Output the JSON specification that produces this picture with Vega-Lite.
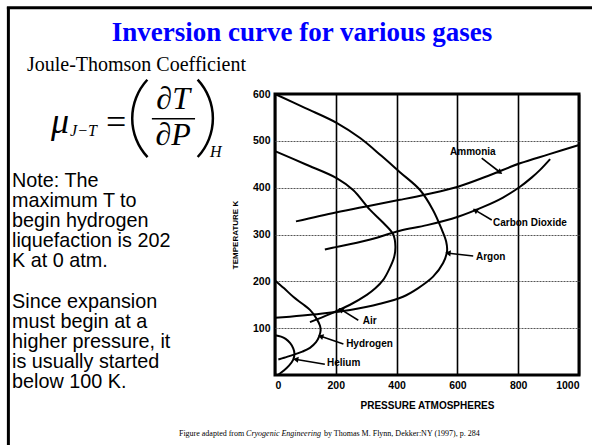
{
  "$schema": "https://vega.github.io/schema/vega-lite/v6.json",
  "width": 304,
  "height": 281,
  "autosize": {"type": "none"},
  "padding": {"left": 275, "top": 94, "right": 13, "bottom": 70},
  "background": "white",
  "view": {"stroke": "black", "strokeWidth": 3},
  "config": {
    "font": "Liberation Sans",
    "axis": {"labelColor": "black", "titleColor": "black", "labelFont": "Liberation Sans", "titleFont": "Liberation Sans"}
  },
  "datasets": {
    "curves": [
      {"gas": "Argon", "i": 1, "P": 0, "T": 600},
      {"gas": "Argon", "i": 2, "P": 100, "T": 570},
      {"gas": "Argon", "i": 3, "P": 204, "T": 538},
      {"gas": "Argon", "i": 4, "P": 280, "T": 506},
      {"gas": "Argon", "i": 5, "P": 350, "T": 468},
      {"gas": "Argon", "i": 6, "P": 411, "T": 433},
      {"gas": "Argon", "i": 7, "P": 477, "T": 395},
      {"gas": "Argon", "i": 8, "P": 520, "T": 352},
      {"gas": "Argon", "i": 9, "P": 549, "T": 310},
      {"gas": "Argon", "i": 10, "P": 563, "T": 285},
      {"gas": "Argon", "i": 11, "P": 566, "T": 265},
      {"gas": "Argon", "i": 12, "P": 553, "T": 239},
      {"gas": "Argon", "i": 13, "P": 520, "T": 210},
      {"gas": "Argon", "i": 14, "P": 470, "T": 185},
      {"gas": "Argon", "i": 15, "P": 421, "T": 167},
      {"gas": "Argon", "i": 16, "P": 345, "T": 152},
      {"gas": "Argon", "i": 17, "P": 247, "T": 139},
      {"gas": "Argon", "i": 18, "P": 150, "T": 131},
      {"gas": "Argon", "i": 19, "P": 0, "T": 122},
      {"gas": "Air", "i": 1, "P": 0, "T": 478},
      {"gas": "Air", "i": 2, "P": 100, "T": 450},
      {"gas": "Air", "i": 3, "P": 204, "T": 420},
      {"gas": "Air", "i": 4, "P": 257, "T": 395},
      {"gas": "Air", "i": 5, "P": 312, "T": 353},
      {"gas": "Air", "i": 6, "P": 356, "T": 325},
      {"gas": "Air", "i": 7, "P": 389, "T": 300},
      {"gas": "Air", "i": 8, "P": 396, "T": 275},
      {"gas": "Air", "i": 9, "P": 392, "T": 252},
      {"gas": "Air", "i": 10, "P": 375, "T": 225},
      {"gas": "Air", "i": 11, "P": 356, "T": 203},
      {"gas": "Air", "i": 12, "P": 330, "T": 185},
      {"gas": "Air", "i": 13, "P": 302, "T": 171},
      {"gas": "Air", "i": 14, "P": 247, "T": 150},
      {"gas": "Air", "i": 15, "P": 180, "T": 130},
      {"gas": "Air", "i": 16, "P": 115, "T": 113},
      {"gas": "Hydrogen", "i": 1, "P": 0, "T": 202},
      {"gas": "Hydrogen", "i": 2, "P": 30, "T": 185},
      {"gas": "Hydrogen", "i": 3, "P": 60, "T": 167},
      {"gas": "Hydrogen", "i": 4, "P": 90, "T": 152},
      {"gas": "Hydrogen", "i": 5, "P": 115, "T": 139},
      {"gas": "Hydrogen", "i": 6, "P": 135, "T": 122},
      {"gas": "Hydrogen", "i": 7, "P": 148, "T": 105},
      {"gas": "Hydrogen", "i": 8, "P": 150, "T": 95},
      {"gas": "Hydrogen", "i": 9, "P": 145, "T": 82},
      {"gas": "Hydrogen", "i": 10, "P": 135, "T": 70},
      {"gas": "Hydrogen", "i": 11, "P": 115, "T": 58},
      {"gas": "Hydrogen", "i": 12, "P": 90, "T": 50},
      {"gas": "Hydrogen", "i": 13, "P": 60, "T": 43},
      {"gas": "Hydrogen", "i": 14, "P": 30, "T": 37},
      {"gas": "Hydrogen", "i": 15, "P": 11, "T": 33},
      {"gas": "Helium", "i": 1, "P": 0, "T": 85},
      {"gas": "Helium", "i": 2, "P": 20, "T": 82},
      {"gas": "Helium", "i": 3, "P": 35, "T": 77},
      {"gas": "Helium", "i": 4, "P": 50, "T": 68},
      {"gas": "Helium", "i": 5, "P": 60, "T": 57},
      {"gas": "Helium", "i": 6, "P": 64, "T": 46},
      {"gas": "Helium", "i": 7, "P": 60, "T": 33},
      {"gas": "Helium", "i": 8, "P": 46, "T": 20},
      {"gas": "Helium", "i": 9, "P": 28, "T": 9},
      {"gas": "Helium", "i": 10, "P": 10, "T": 0},
      {"gas": "Ammonia", "i": 1, "P": 69, "T": 328},
      {"gas": "Ammonia", "i": 2, "P": 200, "T": 347},
      {"gas": "Ammonia", "i": 3, "P": 300, "T": 360},
      {"gas": "Ammonia", "i": 4, "P": 411, "T": 374},
      {"gas": "Ammonia", "i": 5, "P": 500, "T": 386},
      {"gas": "Ammonia", "i": 6, "P": 602, "T": 402},
      {"gas": "Ammonia", "i": 7, "P": 700, "T": 425},
      {"gas": "Ammonia", "i": 8, "P": 806, "T": 452},
      {"gas": "Ammonia", "i": 9, "P": 900, "T": 471},
      {"gas": "Ammonia", "i": 10, "P": 1000, "T": 491},
      {"gas": "Carbon Dioxide", "i": 1, "P": 164, "T": 268},
      {"gas": "Carbon Dioxide", "i": 2, "P": 200, "T": 273},
      {"gas": "Carbon Dioxide", "i": 3, "P": 300, "T": 287},
      {"gas": "Carbon Dioxide", "i": 4, "P": 411, "T": 308},
      {"gas": "Carbon Dioxide", "i": 5, "P": 500, "T": 320},
      {"gas": "Carbon Dioxide", "i": 6, "P": 602, "T": 338},
      {"gas": "Carbon Dioxide", "i": 7, "P": 685, "T": 359},
      {"gas": "Carbon Dioxide", "i": 8, "P": 750, "T": 379},
      {"gas": "Carbon Dioxide", "i": 9, "P": 806, "T": 402},
      {"gas": "Carbon Dioxide", "i": 10, "P": 845, "T": 422},
      {"gas": "Carbon Dioxide", "i": 11, "P": 872, "T": 438},
      {"gas": "Carbon Dioxide", "i": 12, "P": 905, "T": 461}
    ],
    "labels": [
      {"gas": "Ammonia", "P": 576, "T": 476},
      {"gas": "Carbon Dioxide", "P": 717, "T": 325},
      {"gas": "Argon", "P": 661, "T": 252},
      {"gas": "Air", "P": 289, "T": 115},
      {"gas": "Hydrogen", "P": 234, "T": 66},
      {"gas": "Helium", "P": 171, "T": 26}
    ],
    "arrows": [
      {"gas": "Ammonia", "P": 680, "T": 463, "P2": 738, "T2": 434, "heading": 127},
      {"gas": "Carbon Dioxide", "P": 713, "T": 331, "P2": 661, "T2": 351, "heading": 301},
      {"gas": "Argon", "P": 652, "T": 254, "P2": 572, "T2": 260, "heading": 276},
      {"gas": "Air", "P": 274, "T": 117, "P2": 219, "T2": 139, "heading": 301},
      {"gas": "Hydrogen", "P": 225, "T": 66, "P2": 153, "T2": 82, "heading": 289},
      {"gas": "Helium", "P": 164, "T": 23, "P2": 71, "T2": 33, "heading": 279}
    ]
  },
  "layer": [
    {
      "data": {"name": "curves"},
      "mark": {"type": "line", "interpolate": "catmull-rom", "color": "black", "strokeWidth": 2},
      "encoding": {
        "x": {
          "field": "P", "type": "quantitative",
          "scale": {"domain": [0, 1000], "nice": false, "zero": false},
          "axis": {
            "values": [0, 200, 400, 600, 800, 1000],
            "format": "d",
            "title": "PRESSURE  ATMOSPHERES",
            "titleFontSize": 10, "titleFontWeight": "bold", "titlePadding": 10,
            "labelFontSize": 10.5, "labelFontWeight": "bold", "labelPadding": 5,
            "ticks": false, "tickSize": 0, "domain": false,
            "grid": true, "gridColor": "black", "gridWidth": 1.6, "gridOpacity": 1
          }
        },
        "y": {
          "field": "T", "type": "quantitative",
          "scale": {"domain": [0, 600], "nice": false, "zero": false},
          "axis": {
            "values": [100, 200, 300, 400, 500, 600],
            "format": "d",
            "title": "TEMPERATURE K",
            "titleFontSize": 8, "titleFontWeight": "bold", "titlePadding": 13,
            "labelFontSize": 10.5, "labelFontWeight": "bold", "labelPadding": 5,
            "ticks": false, "tickSize": 0, "domain": false,
            "grid": true, "gridColor": "#555555", "gridWidth": 1, "gridDash": [2, 1],
            "gridOpacity": {"condition": {"test": "datum.value >= 600", "value": 0}, "value": 1}
          }
        },
        "detail": {"field": "gas"},
        "order": {"field": "i", "type": "quantitative"}
      }
    },
    {
      "data": {"name": "arrows"},
      "mark": {"type": "rule", "color": "black", "strokeWidth": 1.6},
      "encoding": {
        "x": {"field": "P", "type": "quantitative"},
        "y": {"field": "T", "type": "quantitative"},
        "x2": {"field": "P2"},
        "y2": {"field": "T2"}
      }
    },
    {
      "data": {"name": "arrows"},
      "mark": {"type": "point", "shape": "triangle", "filled": true, "color": "black", "size": 38, "opacity": 1},
      "encoding": {
        "x": {"field": "P2", "type": "quantitative"},
        "y": {"field": "T2", "type": "quantitative"},
        "angle": {"field": "heading", "type": "quantitative", "scale": null}
      }
    },
    {
      "data": {"name": "labels"},
      "mark": {"type": "text", "align": "left", "baseline": "middle", "font": "Liberation Sans", "fontWeight": "bold", "fontSize": 10, "color": "black"},
      "encoding": {
        "x": {"field": "P", "type": "quantitative"},
        "y": {"field": "T", "type": "quantitative"},
        "text": {"field": "gas"}
      }
    },
    {
      "data": {"values": [{}]},
      "mark": {"type": "rule", "color": "black", "strokeWidth": 3},
      "encoding": {
        "x": {"datum": -877, "type": "quantitative"},
        "y": {"datum": 786, "type": "quantitative"},
        "y2": {"datum": -170}
      }
    },
    {
      "data": {"values": [{}]},
      "mark": {"type": "rule", "color": "black", "strokeWidth": 3},
      "encoding": {
        "x": {"datum": -882, "type": "quantitative"},
        "x2": {"datum": 1060},
        "y": {"datum": 784, "type": "quantitative"}
      }
    },
    {
      "data": {"values": [{}]},
      "mark": {"type": "text", "text": "Inversion curve for various gases", "align": "center", "baseline": "alphabetic", "font": "Liberation Serif", "fontWeight": "bold", "fontSize": 27, "color": "#0000ff"},
      "encoding": {
        "x": {"datum": 89, "type": "quantitative"},
        "y": {"datum": 713, "type": "quantitative"}
      }
    },
    {
      "data": {"values": [{}]},
      "mark": {"type": "text", "text": "Joule-Thomson Coefficient", "align": "left", "baseline": "alphabetic", "font": "Liberation Serif", "fontSize": 20, "color": "black"},
      "encoding": {
        "x": {"datum": -816, "type": "quantitative"},
        "y": {"datum": 649, "type": "quantitative"}
      }
    },
    {
      "data": {"values": [{}]},
      "mark": {"type": "text", "text": "μ", "align": "left", "baseline": "alphabetic", "font": "Liberation Serif", "fontStyle": "italic", "fontSize": 36, "color": "black"},
      "encoding": {
        "x": {"datum": -737, "type": "quantitative"},
        "y": {"datum": 517, "type": "quantitative"}
      }
    },
    {
      "data": {"values": [{}]},
      "mark": {"type": "text", "text": "J−T", "align": "left", "baseline": "alphabetic", "font": "Liberation Serif", "fontStyle": "italic", "fontSize": 16, "color": "black"},
      "encoding": {
        "x": {"datum": -674, "type": "quantitative"},
        "y": {"datum": 510, "type": "quantitative"}
      }
    },
    {
      "data": {"values": [{}]},
      "mark": {"type": "text", "text": "=", "align": "left", "baseline": "alphabetic", "font": "Liberation Serif", "fontSize": 36, "color": "black"},
      "encoding": {
        "x": {"datum": -556, "type": "quantitative"},
        "y": {"datum": 515, "type": "quantitative"}
      }
    },
    {
      "data": {"values": [{}]},
      "mark": {"type": "arc", "theta": 3.96, "theta2": 5.46, "innerRadius": 55.5, "outerRadius": 58, "color": "black"},
      "encoding": {
        "x": {"datum": -283, "type": "quantitative"},
        "y": {"datum": 548, "type": "quantitative"}
      }
    },
    {
      "data": {"values": [{}]},
      "mark": {"type": "arc", "theta": 0.82, "theta2": 2.32, "innerRadius": 55.5, "outerRadius": 58, "color": "black"},
      "encoding": {
        "x": {"datum": -391, "type": "quantitative"},
        "y": {"datum": 548, "type": "quantitative"}
      }
    },
    {
      "data": {"values": [{}]},
      "mark": {"type": "text", "text": "∂T", "align": "center", "baseline": "alphabetic", "font": "Liberation Serif", "fontStyle": "italic", "fontSize": 32, "color": "black"},
      "encoding": {
        "x": {"datum": -335, "type": "quantitative"},
        "y": {"datum": 568, "type": "quantitative"}
      }
    },
    {
      "data": {"values": [{}]},
      "mark": {"type": "rule", "color": "black", "strokeWidth": 1.5},
      "encoding": {
        "x": {"datum": -405, "type": "quantitative"},
        "x2": {"datum": -263},
        "y": {"datum": 547, "type": "quantitative"}
      }
    },
    {
      "data": {"values": [{}]},
      "mark": {"type": "text", "text": "∂P", "align": "center", "baseline": "alphabetic", "font": "Liberation Serif", "fontStyle": "italic", "fontSize": 32, "color": "black"},
      "encoding": {
        "x": {"datum": -335, "type": "quantitative"},
        "y": {"datum": 491, "type": "quantitative"}
      }
    },
    {
      "data": {"values": [{}]},
      "mark": {"type": "text", "text": "H", "align": "left", "baseline": "alphabetic", "font": "Liberation Serif", "fontStyle": "italic", "fontSize": 16, "color": "black"},
      "encoding": {
        "x": {"datum": -214, "type": "quantitative"},
        "y": {"datum": 466, "type": "quantitative"}
      }
    },
    {
      "data": {"values": [{}]},
      "mark": {"type": "text", "text": "Note:  The\nmaximum T to\nbegin hydrogen\nliquefaction is 202\nK at 0 atm.", "lineBreak": "\n", "lineHeight": 20, "align": "left", "baseline": "alphabetic", "font": "Liberation Sans", "fontSize": 19.8, "color": "black"},
      "encoding": {
        "x": {"datum": -865, "type": "quantitative"},
        "y": {"datum": 401, "type": "quantitative"}
      }
    },
    {
      "data": {"values": [{}]},
      "mark": {"type": "text", "text": "Since expansion\nmust begin at a\nhigher pressure, it\nis usually started\nbelow 100 K.", "lineBreak": "\n", "lineHeight": 20, "align": "left", "baseline": "alphabetic", "font": "Liberation Sans", "fontSize": 19.8, "color": "black"},
      "encoding": {
        "x": {"datum": -865, "type": "quantitative"},
        "y": {"datum": 143, "type": "quantitative"}
      }
    },
    {
      "data": {"values": [{}]},
      "mark": {"type": "text", "text": "Figure adapted from", "align": "left", "baseline": "alphabetic", "font": "Liberation Serif", "fontSize": 8, "color": "black"},
      "encoding": {
        "x": {"datum": -316, "type": "quantitative"},
        "y": {"datum": -130, "type": "quantitative"}
      }
    },
    {
      "data": {"values": [{}]},
      "mark": {"type": "text", "text": "Cryogenic Engineering", "align": "left", "baseline": "alphabetic", "font": "Liberation Serif", "fontStyle": "italic", "fontSize": 8, "color": "black"},
      "encoding": {
        "x": {"datum": -95, "type": "quantitative"},
        "y": {"datum": -130, "type": "quantitative"}
      }
    },
    {
      "data": {"values": [{}]},
      "mark": {"type": "text", "text": "by Thomas M. Flynn, Dekker:NY (1997), p. 284", "align": "left", "baseline": "alphabetic", "font": "Liberation Serif", "fontSize": 8, "color": "black"},
      "encoding": {
        "x": {"datum": 161, "type": "quantitative"},
        "y": {"datum": -130, "type": "quantitative"}
      }
    }
  ]
}
